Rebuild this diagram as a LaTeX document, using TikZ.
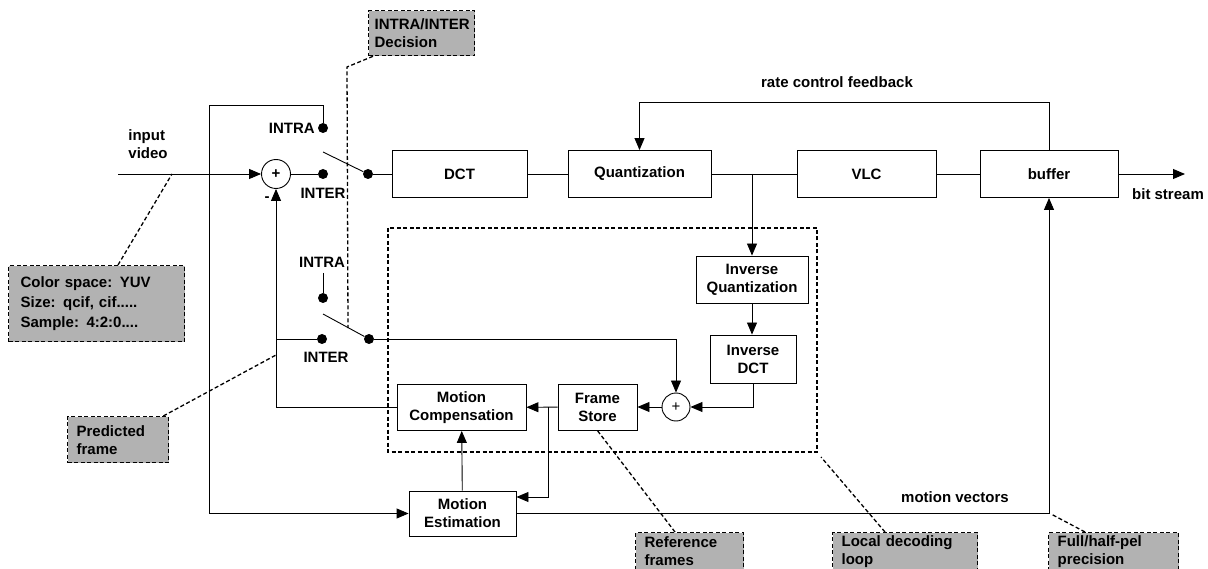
\documentclass[tikz,border=0pt]{standalone}
\usepackage{fontspec}
\setmainfont{Liberation Sans}
\usetikzlibrary{arrows.meta,calc}
\begin{document}
\begin{tikzpicture}[x=1pt,y=-1pt,
  every node/.style={font=\bfseries\fontsize{15}{18}\selectfont, inner sep=0pt},
  wire/.style={line width=0.9pt},
  arr/.style={wire,-{Triangle[length=12pt,width=10pt]}},
  blk/.style={draw, line width=0.9pt, rectangle, minimum height=47pt, align=center},
  sumc/.style={draw, circle, line width=0.9pt, minimum size=29pt},
  swdot/.style={circle, fill=black, minimum size=10pt},
  ann/.style={draw, line width=1.3pt, dash pattern=on 4pt off 2.5pt, fill=black!30,
              align=left, anchor=north west, inner xsep=9pt},
  lead/.style={line width=1.3pt, dash pattern=on 4pt off 2.5pt},
]
\useasboundingbox (0,0) rectangle (1208,569);

% local decoding loop frame
\draw[lead, line width=1.4pt] (388,228) rectangle (817,452);

% main coding chain
\node[blk, minimum width=135pt] (dct)   at (459.5,174) {DCT};
\node[blk, minimum width=143pt] (quant) at (639.5,174) {Quantization};
\node[blk, minimum width=139pt] (vlc)   at (866.5,174) {VLC};
\node[blk, minimum width=138pt] (buf)   at (1049,174)  {buffer};

% reconstruction path
\node[blk, minimum width=112pt] (iq)   at (752,279.5) {Inverse\\Quantization};
\node[blk, minimum width=86pt, minimum height=48pt] (idct) at (753,359) {Inverse\\DCT};
\node[blk, minimum width=79pt, minimum height=46pt] (fs)   at (597.5,407) {Frame\\Store};
\node[blk, minimum width=129pt, minimum height=46pt] (mc)  at (461.5,407.5) {Motion\\Compensation};
\node[blk, minimum width=107pt, minimum height=45pt] (me)  at (462.5,513.5) {Motion\\Estimation};

\node[sumc] (s1) at (276,174) {+};
\node[sumc, minimum size=28pt, font=\fontsize{15}{18}\selectfont] (s2) at (676,407) {+};

% first switch
\node[swdot] (a1) at (323,128) {};
\node[swdot] (b1) at (323,174) {};
\node[swdot] (c1) at (368,174) {};
\coordinate (l1) at (323,152);
\draw[wire] (l1) -- (c1);
\node[anchor=east] (t1) at (315,128) {INTRA};
\node (t2) at (323,193) {INTER};

% second switch
\node (t3) at (322,262) {INTRA};
\coordinate (a2top) at (323,273);
\node[swdot] (a2) at (323,298) {};
\draw[wire] (a2top) -- (a2);
\node[swdot] (b2) at (322,339) {};
\node[swdot] (c2) at (369,339) {};
\coordinate (l2) at (323,314);
\draw[wire] (l2) -- (c2);
\node (t4) at (326,357) {INTER};

% input and intra path
\coordinate (vin)  at (118,174);
\coordinate (jin)  at (209,174);
\coordinate (ttop) at (209,105);
\coordinate (jme)  at (209,513.5);
\draw[arr] (vin) -- (s1);
\draw[arr] (a1) |- (ttop) -- (jme) -- (me);
\draw[wire] (b1) -- (s1);
\draw[wire] (c1) -- (dct);
\draw[wire] (dct) -- (quant);
\draw[wire] (quant) -- (vlc);
\draw[wire] (vlc) -- (buf);
\coordinate (bs) at (1185,174);
\draw[arr] (buf) -- (bs);

% rate control feedback
\coordinate (fb) at (1049,102);
\draw[arr] (buf.north) -- (fb) -| (quant.north);

% local decoding loop
\coordinate (jq) at (752,174);
\draw[arr] (jq) -- (iq);
\draw[arr] (iq.south) -- (iq.south |- idct.north);
\draw[arr] (idct.south) |- (s2.east);
\draw[arr] (s2) -- (fs);
\draw[arr] (fs) -- (mc);
\coordinate (jfs) at (548,407);
\draw[arr] (jfs) |- ([yshift=16.5pt]me.east);
\draw[arr] (me) -- (mc);

% prediction feedback to the subtractor
\coordinate (jp) at (276,407.5);
\draw[arr] (mc.west) -- (jp) -- (s1.south);
\coordinate (jb2) at (276,339);
\draw[wire] (b2) -- (jb2);
\coordinate (jc2) at (676,339);
\draw[arr] (c2) -- (jc2) -- (s2);

% motion vectors to the buffer
\coordinate (mv) at (1049,513.5);
\draw[arr] (me) -- (mv) -- (buf.south);

% labels
\node[align=left] (lin) at (148,144.5) {input\\video};
\node (lminus) at (267,199) {-};
\node (lrate) at (837,82) {rate control feedback};
\node (lbit) at (1168,194) {bit stream};
\node (lmv) at (955,497) {motion vectors};

% annotations
\node[ann, inner xsep=6pt, text width=94pt, minimum height=45pt] (dec) at (368,10) {INTRA/INTER\\Decision};
\node[ann, inner xsep=12pt, text width=152pt, minimum height=76pt, font=\bfseries\fontsize{15}{20}\selectfont] (col) at (8,265) {Color space: YUV\\Size: qcif, cif.....\\Sample: 4:2:0....};
\node[ann, text width=83pt, minimum height=46pt] (pred) at (67,416) {Predicted\\frame};
\node[ann, text width=90pt, minimum height=37pt] (ref) at (635,532) {Reference\\frames};
\node[ann, text width=127pt, minimum height=37pt] (loop) at (832,532) {Local decoding\\loop};
\node[ann, text width=112pt, minimum height=37pt] (full) at (1048,532) {Full/half-pel\\precision};

\coordinate (d1) at (347,67);
\coordinate (d2) at (348,328);
\draw[lead] ([xshift=5pt]dec.south west) -- (d1) -- (d2);
\coordinate (pcol) at (172,174);
\draw[lead] ([xshift=110pt]col.north west) -- (pcol);
\coordinate (pp) at (276,355);
\draw[lead] ([xshift=-6pt]pred.north east) -- (pp);
\coordinate (pr) at (597,430);
\draw[lead] ([xshift=40pt]ref.north west) -- (pr);
\coordinate (pl) at (821,457);
\draw[lead] ([xshift=53pt]loop.north west) -- (pl);
\coordinate (pf) at (1051,514);
\draw[lead] ([xshift=37pt]full.north west) -- (pf);
\end{tikzpicture}
\end{document}
